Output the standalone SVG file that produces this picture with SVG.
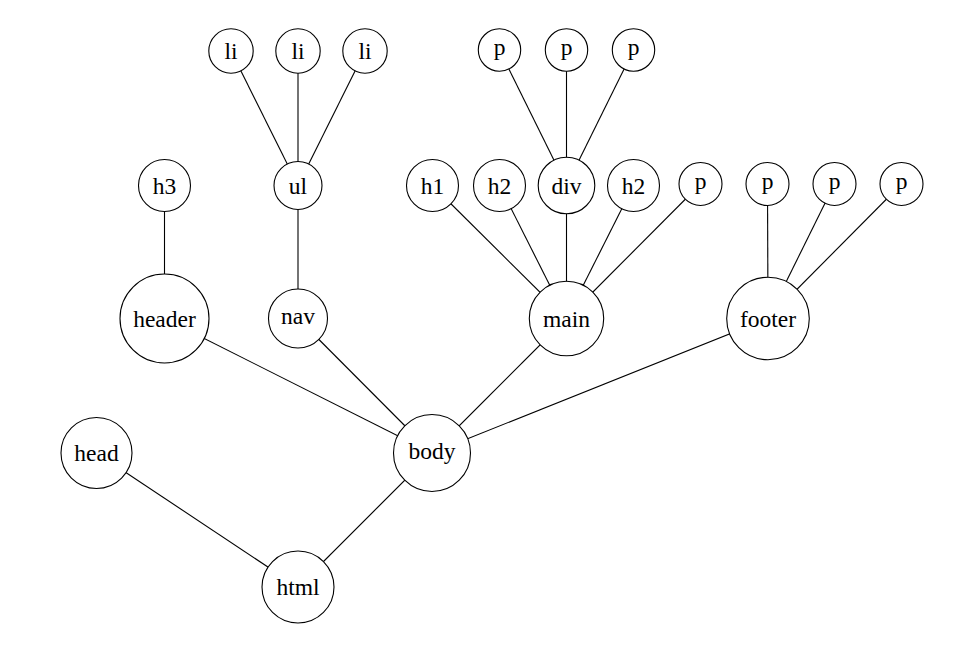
<svg xmlns="http://www.w3.org/2000/svg" width="970" height="654" viewBox="0 0 970 654">
<style>
  .n circle { fill: #fff; stroke: #000; stroke-width: 1.1; }
  #edges line { stroke: #000; stroke-width: 1.1; }
</style>
<rect width="970" height="654" fill="#fff"/>
<g id="edges">
  <line x1="298" y1="587" x2="96.5" y2="453"/>
  <line x1="298" y1="587" x2="432" y2="453"/>
  <line x1="432" y1="453" x2="164.5" y2="318.5"/>
  <line x1="432" y1="453" x2="298" y2="318.5"/>
  <line x1="432" y1="453" x2="566.5" y2="318.5"/>
  <line x1="432" y1="453" x2="768" y2="318.5"/>
  <line x1="164.5" y1="318.5" x2="164.5" y2="185.5"/>
  <line x1="298" y1="318.5" x2="298" y2="185.5"/>
  <line x1="298" y1="185.5" x2="231" y2="51"/>
  <line x1="298" y1="185.5" x2="298" y2="51"/>
  <line x1="298" y1="185.5" x2="365" y2="51"/>
  <line x1="566.5" y1="318.5" x2="432.5" y2="185.5"/>
  <line x1="566.5" y1="318.5" x2="499.5" y2="185.5"/>
  <line x1="566.5" y1="318.5" x2="566.5" y2="185.5"/>
  <line x1="566.5" y1="318.5" x2="633.5" y2="185.5"/>
  <line x1="566.5" y1="318.5" x2="700.5" y2="184"/>
  <line x1="566.5" y1="185.5" x2="499.5" y2="50"/>
  <line x1="566.5" y1="185.5" x2="566.5" y2="50"/>
  <line x1="566.5" y1="185.5" x2="633.5" y2="50"/>
  <line x1="768" y1="318.5" x2="767.5" y2="184"/>
  <line x1="768" y1="318.5" x2="834.5" y2="184"/>
  <line x1="768" y1="318.5" x2="901.5" y2="184"/>
</g>
<g font-family="Liberation Serif, DejaVu Serif, serif" font-size="23.5" fill="#000" text-anchor="middle">
<g id="html" class="n"><circle cx="298" cy="587" r="36"/><text x="298" y="595">html</text></g>
<g id="head" class="n"><circle cx="96.5" cy="453" r="35.5"/><text x="96.5" y="461">head</text></g>
<g id="body" class="n"><circle cx="432" cy="453" r="38.5"/><text x="432" y="458.5">body</text></g>
<g id="header" class="n"><circle cx="164.5" cy="318.5" r="44.5"/><text x="164.5" y="327">header</text></g>
<g id="nav" class="n"><circle cx="298" cy="318.5" r="29.5"/><text x="298" y="324">nav</text></g>
<g id="main" class="n"><circle cx="566.5" cy="318.5" r="37.2"/><text x="566.5" y="326.5">main</text></g>
<g id="footer" class="n"><circle cx="768" cy="318.5" r="41.3"/><text x="768" y="326.5">footer</text></g>
<g id="h3" class="n"><circle cx="164.5" cy="185.5" r="26"/><text x="164.5" y="193.5">h3</text></g>
<g id="ul" class="n"><circle cx="298" cy="185.5" r="24"/><text x="298" y="193.5">ul</text></g>
<g id="h1" class="n"><circle cx="432.5" cy="185.5" r="26"/><text x="432.5" y="193.5">h1</text></g>
<g id="h2a" class="n"><circle cx="499.5" cy="185.5" r="26"/><text x="499.5" y="193.5">h2</text></g>
<g id="div" class="n"><circle cx="566.5" cy="185.5" r="28.3"/><text x="566.5" y="193.5">div</text></g>
<g id="h2b" class="n"><circle cx="633.5" cy="185.5" r="26"/><text x="633.5" y="193.5">h2</text></g>
<g id="p_main" class="n"><circle cx="700.5" cy="184" r="21.5"/><text x="700.5" y="188.5">p</text></g>
<g id="p_footer1" class="n"><circle cx="767.5" cy="184" r="21.5"/><text x="767.5" y="188.5">p</text></g>
<g id="p_footer2" class="n"><circle cx="834.5" cy="184" r="21.5"/><text x="834.5" y="188.5">p</text></g>
<g id="p_footer3" class="n"><circle cx="901.5" cy="184" r="21.5"/><text x="901.5" y="188.5">p</text></g>
<g id="li1" class="n"><circle cx="231" cy="51" r="22.2"/><text x="231" y="59">li</text></g>
<g id="li2" class="n"><circle cx="298" cy="51" r="22.2"/><text x="298" y="59">li</text></g>
<g id="li3" class="n"><circle cx="365" cy="51" r="22.2"/><text x="365" y="59">li</text></g>
<g id="p_div1" class="n"><circle cx="499.5" cy="50" r="21.2"/><text x="499.5" y="54.5">p</text></g>
<g id="p_div2" class="n"><circle cx="566.5" cy="50" r="21.2"/><text x="566.5" y="54.5">p</text></g>
<g id="p_div3" class="n"><circle cx="633.5" cy="50" r="21.2"/><text x="633.5" y="54.5">p</text></g>
</g>
</svg>
